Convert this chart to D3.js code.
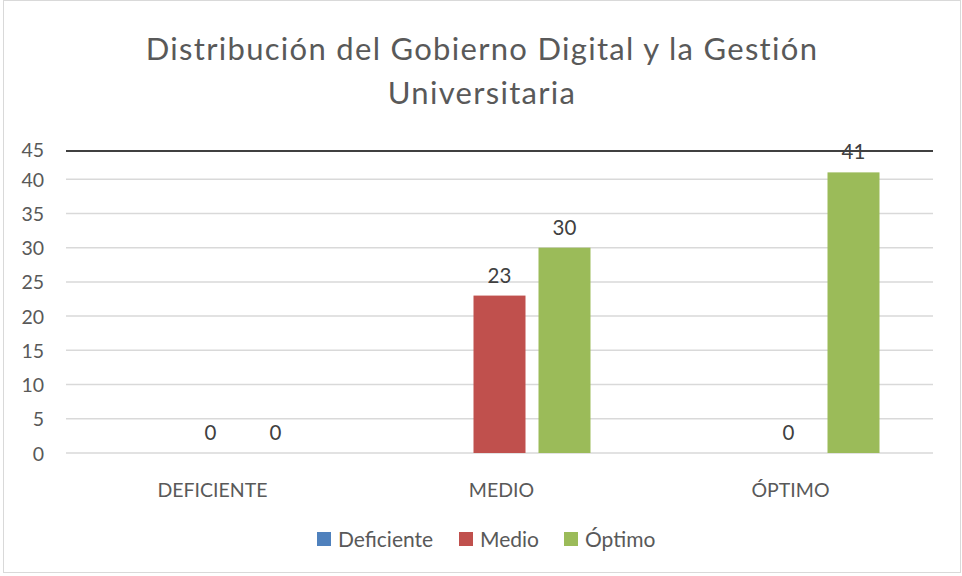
<!DOCTYPE html>
<html>
<head>
<meta charset="utf-8">
<script src="https://cdn.jsdelivr.net/npm/d3@7"></script>
<style>
  body { margin: 0; background: #fff; }
  svg { display: block; font-family: Lato, "Open Sans", sans-serif; }
</style>
</head>
<body>
<div id="chart"></div>
<script>
const categories = ['DEFICIENTE', 'MEDIO', 'ÓPTIMO'];
const seriesNames = ['Deficiente', 'Medio', 'Óptimo'];
const seriesColors = ['#4F81BD', '#C0504D', '#9BBB59'];
// Deficiente has no values shown in the picture
const deficienteValues = [null, null, null];
const medioValues = [0, 23, 0];
const optimoValues = [0, 30, 41];
const yTicks = [0, 5, 10, 15, 20, 25, 30, 35, 40, 45];
const titleLines = ['Distribución del Gobierno Digital y la Gestión', 'Universitaria'];

const width = 962, height = 576;
const margin = {top: 145, right: 29, bottom: 123, left: 66};
const textColor = '#595959';

const svg = d3.select('#chart').append('svg')
  .attr('width', width)
  .attr('height', height);

// chart area frame
svg.append('rect')
  .attr('x', 3.5).attr('y', 0.5)
  .attr('width', 957).attr('height', 572)
  .attr('fill', '#fff')
  .attr('stroke', '#D9D9D9');

const x0 = d3.scaleBand()
  .domain(categories)
  .range([margin.left, width - margin.right]);

// inner band: 3 bars of 52px with 13px gaps, centred in each category
const groupW = 182;
const x1 = d3.scaleBand()
  .domain(seriesNames)
  .range([(x0.bandwidth() - groupW) / 2, (x0.bandwidth() + groupW) / 2])
  .paddingInner(0.2);

const y = d3.scaleLinear()
  .domain([0, 45])
  .range([height - margin.bottom, margin.top]);

// gridlines (the top one is drawn dark, slightly below its tick in the source)
const topShift = 6;
svg.append('g').attr('class', 'grid')
  .selectAll('line')
  .data(yTicks)
  .enter().append('line')
  .attr('x1', margin.left)
  .attr('x2', width - margin.right)
  .attr('y1', d => d === 45 ? y(d) + topShift : y(d))
  .attr('y2', d => d === 45 ? y(d) + topShift : y(d))
  .style('stroke', d => d === 45 ? '#404040' : '#D9D9D9')
  .style('stroke-width', d => d === 45 ? '2px' : '1.5px');

// y axis tick labels
svg.append('g')
  .selectAll('text')
  .data(yTicks)
  .enter().append('text')
  .attr('x', 44)
  .attr('y', d => d === 45 ? y(d) + 4 : y(d))
  .attr('text-anchor', 'end')
  .attr('dominant-baseline', 'central')
  .style('font-size', '19.5px')
  .style('fill', textColor)
  .text(d => d);

// category labels
svg.append('g')
  .selectAll('text')
  .data(categories)
  .enter().append('text')
  .attr('x', d => x0(d) + x0.bandwidth() / 2 + 2)
  .attr('y', 497)
  .attr('text-anchor', 'middle')
  .style('font-size', '19.5px')
  .style('fill', textColor)
  .text(d => d);

const seriesValues = [deficienteValues, medioValues, optimoValues];
const rows = [];
categories.forEach((c, i) => {
  seriesNames.forEach((s, j) => {
    rows.push({cat: c, series: s, color: seriesColors[j], value: seriesValues[j][i]});
  });
});
const shown = rows.filter(d => d.value !== null);

svg.append('g').attr('class', 'bars')
  .selectAll('rect')
  .data(shown.filter(d => d.value > 0))
  .enter().append('rect')
  .attr('x', d => x0(d.cat) + x1(d.series))
  .attr('y', d => y(d.value))
  .attr('width', x1.bandwidth())
  .attr('height', d => y(0) - y(d.value))
  .style('fill', d => d.color);

// value labels
svg.append('g').attr('class', 'labels')
  .selectAll('text')
  .data(shown)
  .enter().append('text')
  .attr('x', d => x0(d.cat) + x1(d.series) + x1.bandwidth() / 2)
  .attr('y', d => y(d.value) - 13)
  .attr('text-anchor', 'middle')
  .style('font-size', '20.5px')
  .style('fill', '#404040')
  .text(d => d.value);

// title
svg.append('g')
  .selectAll('text')
  .data(titleLines)
  .enter().append('text')
  .attr('x', 482)
  .attr('y', (d, i) => 60 + i * 44)
  .attr('text-anchor', 'middle')
  .style('font-size', '31px')
  .style('letter-spacing', '1.3px')
  .style('fill', textColor)
  .text(d => d);

// legend
const legendX = [317, 459, 564];
const legend = svg.append('g').attr('class', 'legend')
  .selectAll('g')
  .data(seriesNames)
  .enter().append('g')
  .attr('transform', (d, i) => 'translate(' + legendX[i] + ',532)');

legend.append('rect')
  .attr('width', 14).attr('height', 14)
  .style('fill', (d, i) => seriesColors[i]);

legend.append('text')
  .attr('x', 21)
  .attr('y', 15)
  .style('font-size', '21px')
  .style('fill', textColor)
  .text(d => d);
</script>
</body>
</html>
